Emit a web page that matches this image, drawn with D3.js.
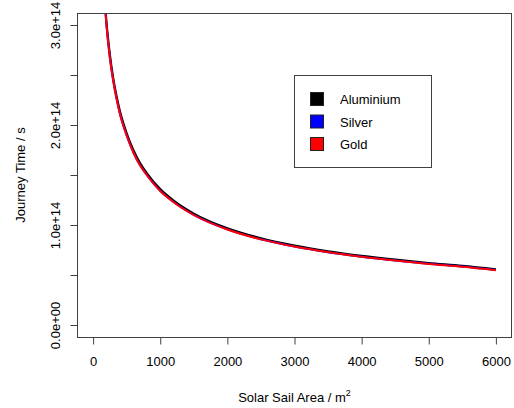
<meta charset="utf-8">
<head>
<style>
  body { margin: 0; background: #fff; }
  text { font-family: "Liberation Sans", Arial, sans-serif; fill: #000; }
</style>
</head>
<body>
<div id="chartId"></div>
</body>
<script src="https://d3js.org/d3.v7.min.js"></script>
<script>

// Data (journey time in units of 1e14 s)
var area = [180, 200, 250, 300, 350, 400, 500, 600, 700, 800, 1000, 1200, 1500,
            2000, 2500, 3000, 3500, 4000, 4500, 5000, 5500, 6000];
var aluminium = [3.20, 3.03, 2.71, 2.47, 2.29, 2.14, 1.92, 1.75, 1.62, 1.52, 1.36, 1.245, 1.115,
                 0.968, 0.868, 0.795, 0.738, 0.692, 0.654, 0.621, 0.593, 0.558];
var silver = [3.162, 2.992, 2.672, 2.442, 2.262, 2.112, 1.897, 1.727, 1.597, 1.502, 1.342, 1.230, 1.101,
              0.956, 0.857, 0.785, 0.728, 0.683, 0.645, 0.612, 0.584, 0.549];
var gold = [3.16, 2.99, 2.67, 2.44, 2.26, 2.11, 1.895, 1.725, 1.595, 1.50, 1.34, 1.228, 1.10,
            0.955, 0.856, 0.784, 0.727, 0.682, 0.644, 0.611, 0.583, 0.548];
var seriesNames = ["Aluminium", "Silver", "Gold"];
var seriesColors = ["#000000", "#0000ff", "#ff0000"];
var xTicks = [0, 1000, 2000, 3000, 4000, 5000, 6000];
var yTicks = [0, 0.5, 1, 1.5, 2, 2.5, 3];
var yLabels = {0: "0.0e+00", 1: "1.0e+14", 2: "2.0e+14", 3: "3.0e+14"};

var width = 514, height = 408;
var pLeft = 77, pRight = 512, pTop = 13, pBottom = 337;

var svg = d3.select("#chartId").append("svg")
    .attr("width", width)
    .attr("height", height);

// R style: 4% padding on both ends
var x = d3.scaleLinear().domain([-240, 6240]).range([pLeft, pRight]);
var y = d3.scaleLinear().domain([-0.12, 3.12]).range([pBottom, pTop]);

svg.append("clipPath").attr("id", "plotclip")
  .append("rect")
    .attr("x", pLeft).attr("y", pTop)
    .attr("width", pRight - pLeft).attr("height", pBottom - pTop);

// series, drawn in order so gold sits on top
var line = d3.line()
    .x(function(d) { return x(d[0]); })
    .y(function(d) { return y(d[1]); })
    .curve(d3.curveMonotoneX);

var allSeries = [aluminium, silver, gold];
svg.append("g").attr("clip-path", "url(#plotclip)")
  .selectAll("path")
  .data(allSeries)
  .enter()
  .append("path")
    .attr("d", function(vals) {
        return line(area.map(function(a, i) { return [a, vals[i]]; }));
    })
    .attr("fill", "none")
    .attr("stroke", function(d, i) { return seriesColors[i]; })
    .attr("stroke-width", 2);

// box
svg.append("rect")
    .attr("x", pLeft + 0.5).attr("y", pTop + 0.5)
    .attr("width", pRight - pLeft - 1).attr("height", pBottom - pTop)
    .attr("fill", "none")
    .attr("stroke", "#404040")
    .attr("stroke-width", 1);

// x axis
var xAxis = svg.append("g")
    .attr("transform", "translate(0," + (pBottom + 0.5) + ")")
    .call(d3.axisBottom(x).tickValues(xTicks).tickSize(7).tickPadding(12)
          .tickFormat(d3.format("d")));
xAxis.select(".domain").remove();
xAxis.selectAll(".tick line").attr("stroke", "#404040");
xAxis.selectAll("text").attr("font-size", 13).attr("fill", "#000")
    .attr("font-family", "Liberation Sans, Arial, sans-serif");

// y axis
var yAxis = svg.append("g")
    .attr("transform", "translate(" + (pLeft + 0.5) + ",0)")
    .call(d3.axisLeft(y).tickValues(yTicks).tickSize(7)
          .tickFormat(function(d) { return yLabels[d] || ""; }));
yAxis.select(".domain").remove();
yAxis.selectAll(".tick line").attr("stroke", "#404040");
yAxis.selectAll("text").remove();
yAxis.selectAll(".tick").append("text")
    .attr("transform", "translate(-18,0) rotate(-90)")
    .attr("text-anchor", "middle")
    .attr("font-size", 13)
    .text(function(d) { return yLabels[d] || ""; });

// axis titles
var xt = svg.append("text")
    .attr("x", (pLeft + pRight) / 2)
    .attr("y", 402)
    .attr("text-anchor", "middle")
    .attr("font-size", 13)
    .text("Solar Sail Area / m");
xt.append("tspan").attr("font-size", 9).attr("dy", -6).text("2");

svg.append("text")
    .attr("transform", "translate(25," + ((pTop + pBottom) / 2) + ") rotate(-90)")
    .attr("text-anchor", "middle")
    .attr("font-size", 13)
    .text("Journey Time / s");

// legend
var lg = svg.append("g").attr("transform", "translate(294,75)");
lg.append("rect")
    .attr("x", 0.5).attr("y", 0.5)
    .attr("width", 137).attr("height", 92)
    .attr("fill", "#fff")
    .attr("stroke", "#404040");
var items = lg.selectAll(".item")
    .data(seriesNames)
    .enter()
    .append("g")
    .attr("transform", function(d, i) { return "translate(0," + (24 + i * 22.5) + ")"; });
items.append("rect")
    .attr("x", 16.5).attr("y", -6.5)
    .attr("width", 13).attr("height", 13)
    .attr("fill", function(d, i) { return seriesColors[i]; })
    .attr("stroke", "#222");
items.append("text")
    .attr("x", 46).attr("y", 5)
    .attr("font-size", 13)
    .text(function(d) { return d; });

</script>
